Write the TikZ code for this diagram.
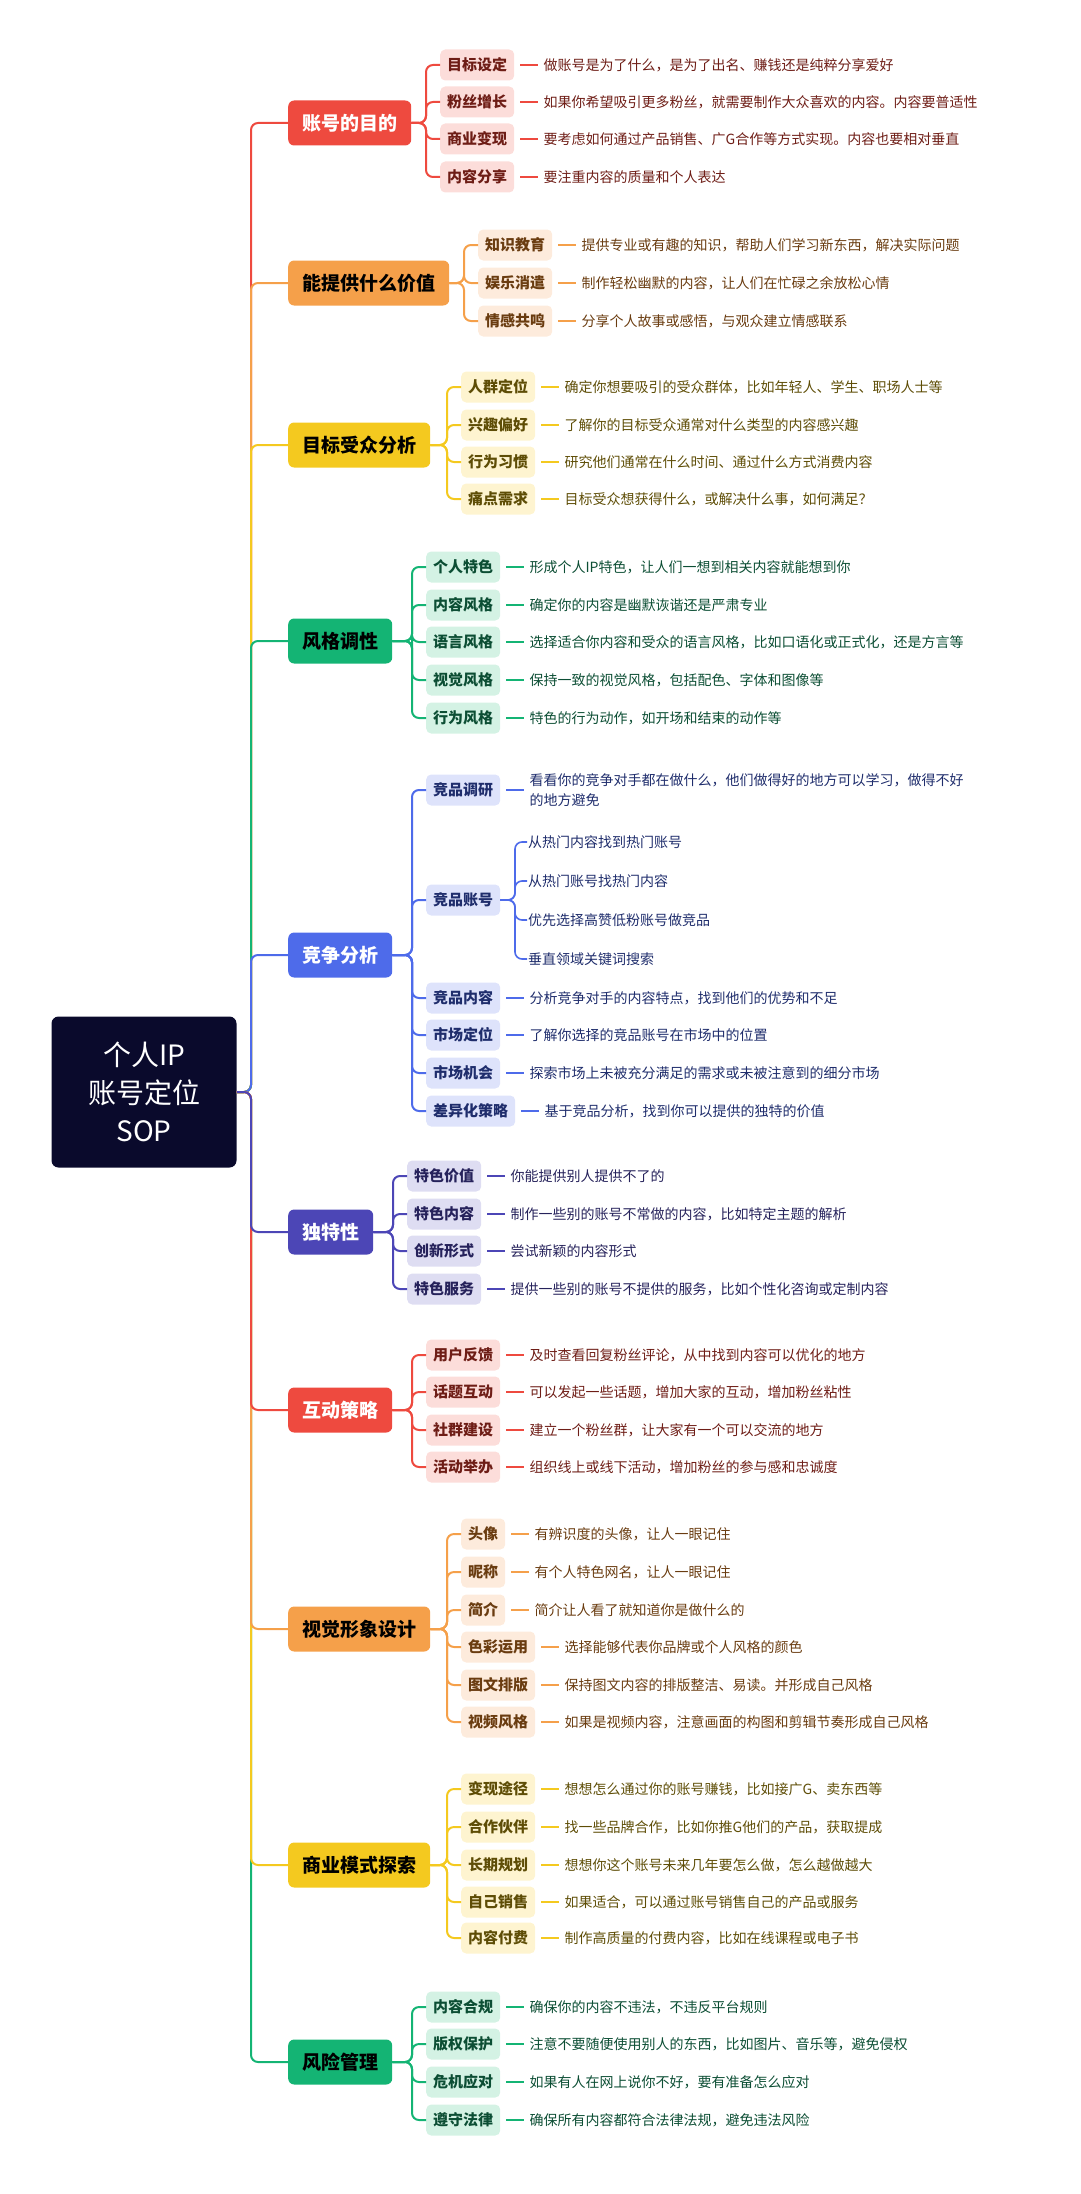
\documentclass[tikz,border=0pt]{standalone}
\usepackage{fontspec}
\setmainfont{Noto Sans CJK SC}
\usepackage{xcolor}
\usetikzlibrary{positioning}

\definecolor{redM}{HTML}{EE4A3F}\definecolor{redL}{HTML}{FCDDDA}\definecolor{redD}{HTML}{6E1D16}
\definecolor{orgM}{HTML}{F5A04A}\definecolor{orgL}{HTML}{FDEBDC}\definecolor{orgD}{HTML}{6A3C10}
\definecolor{yelM}{HTML}{F4C91F}\definecolor{yelL}{HTML}{FEF4D0}\definecolor{yelD}{HTML}{5E4D06}
\definecolor{grnM}{HTML}{14B474}\definecolor{grnL}{HTML}{D4F2E4}\definecolor{grnD}{HTML}{0C4E34}
\definecolor{bluM}{HTML}{4E6BEA}\definecolor{bluL}{HTML}{DEE3FB}\definecolor{bluD}{HTML}{1F2D6C}
\definecolor{indM}{HTML}{4C46B6}\definecolor{indL}{HTML}{DEDDF2}\definecolor{indD}{HTML}{26225B}
\definecolor{rootbg}{HTML}{0A0A2C}

\tikzset{
  main/.style={fill=#1M, rounded corners=6pt, minimum height=45pt, inner xsep=14pt,
    font=\fontsize{19}{22}\selectfont\bfseries, anchor=west},
  sub/.style={fill=#1L, text=#1D, rounded corners=5pt, minimum height=31pt, inner xsep=7pt,
    font=\fontsize{15}{18}\selectfont\bfseries, anchor=west},
  leaf/.style={text=#1D, font=\fontsize{14}{20}\selectfont, inner sep=1pt, align=left, anchor=west},
  link/.style={draw=#1M, line width=2pt, rounded corners=7pt},
  twig/.style={draw=#1M, line width=1.4pt, shorten <=6pt, shorten >=4pt}
}

\begin{document}
\begin{tikzpicture}[x=1pt,y=-1pt]
	\useasboundingbox (0,0) rectangle (1080,2194);
	
	% root
	\node[fill=rootbg, text=white, rounded corners=7pt, minimum width=185pt, minimum height=151pt,
	  align=center, font=\fontsize{28}{38}\selectfont] (root) at (144,1092) {个人IP\\账号定位\\SOP};
	
	% main branches
	\node[main=red, text=white] (m1) at (288,123) {账号的目的};
	\node[main=org] (m2) at (288,283) {能提供什么价值};
	\node[main=yel] (m3) at (288,445) {目标受众分析};
	\node[main=grn] (m4) at (288,641) {风格调性};
	\node[main=blu, text=white] (m5) at (288,955) {竞争分析};
	\node[main=ind, text=white] (m6) at (288,1232) {独特性};
	\node[main=red, text=white] (m7) at (288,1410) {互动策略};
	\node[main=org] (m8) at (288,1629) {视觉形象设计};
	\node[main=yel] (m9) at (288,1865) {商业模式探索};
	\node[main=grn] (m10) at (288,2062) {风险管理};
	
	% trunk
	\draw[link=red] (root.east) -| ([xshift=-37pt]m1.west) -- (m1.west);
	\draw[link=org] (root.east) -| ([xshift=-37pt]m2.west) -- (m2.west);
	\draw[link=yel] (root.east) -| ([xshift=-37pt]m3.west) -- (m3.west);
	\draw[link=grn] (root.east) -| ([xshift=-37pt]m4.west) -- (m4.west);
	\draw[link=blu] (root.east) -| ([xshift=-37pt]m5.west) -- (m5.west);
	\draw[link=grn] (root.east) -| ([xshift=-37pt]m10.west) -- (m10.west);
	\draw[link=yel] (root.east) -| ([xshift=-37pt]m9.west) -- (m9.west);
	\draw[link=org] (root.east) -| ([xshift=-37pt]m8.west) -- (m8.west);
	\draw[link=red] (root.east) -| ([xshift=-37pt]m7.west) -- (m7.west);
	\draw[link=ind] (root.east) -| ([xshift=-37pt]m6.west) -- (m6.west);
	
	% 1
	\foreach \i/\y/\sname/\ltext in {1/65/目标设定/做账号是为了什么，是为了出名、赚钱还是纯粹分享爱好,
	  2/102/粉丝增长/如果你希望吸引更多粉丝，就需要制作大众喜欢的内容。内容要普适性,
	  3/139/商业变现/要考虑如何通过产品销售、广G合作等方式实现。内容也要相对垂直,
	  4/177/内容分享/要注重内容的质量和个人表达}{
	  \node[sub=red] (s1\i) at (440,\y) {\sname};
	  \node[leaf=red, right=28pt of s1\i] (l1\i) {\ltext};
	  \draw[link=red] (m1.east) -| ([xshift=-14pt]s1\i.west) -- (s1\i.west);
	  \draw[twig=red] (s1\i) -- (l1\i);
	}
	% 2
	\foreach \i/\y/\sname/\ltext in {1/245/知识教育/提供专业或有趣的知识，帮助人们学习新东西，解决实际问题,
	  2/283/娱乐消遣/制作轻松幽默的内容，让人们在忙碌之余放松心情,
	  3/321/情感共鸣/分享个人故事或感悟，与观众建立情感联系}{
	  \node[sub=org] (s2\i) at (478,\y) {\sname};
	  \node[leaf=org, right=28pt of s2\i] (l2\i) {\ltext};
	  \draw[link=org] (m2.east) -| ([xshift=-14pt]s2\i.west) -- (s2\i.west);
	  \draw[twig=org] (s2\i) -- (l2\i);
	}
	% 3
	\foreach \i/\y/\sname/\ltext in {1/387/人群定位/确定你想要吸引的受众群体，比如年轻人、学生、职场人士等,
	  2/425/兴趣偏好/了解你的目标受众通常对什么类型的内容感兴趣,
	  3/462/行为习惯/研究他们通常在什么时间、通过什么方式消费内容,
	  4/499/痛点需求/目标受众想获得什么，或解决什么事，如何满足？}{
	  \node[sub=yel] (s3\i) at (461,\y) {\sname};
	  \node[leaf=yel, right=28pt of s3\i] (l3\i) {\ltext};
	  \draw[link=yel] (m3.east) -| ([xshift=-14pt]s3\i.west) -- (s3\i.west);
	  \draw[twig=yel] (s3\i) -- (l3\i);
	}
	% 4
	\foreach \i/\y/\sname/\ltext in {1/567/个人特色/形成个人IP特色，让人们一想到相关内容就能想到你,
	  2/605/内容风格/确定你的内容是幽默诙谐还是严肃专业,
	  3/642/语言风格/选择适合你内容和受众的语言风格，比如口语化或正式化，还是方言等,
	  4/680/视觉风格/保持一致的视觉风格，包括配色、字体和图像等,
	  5/718/行为风格/特色的行为动作，如开场和结束的动作等}{
	  \node[sub=grn] (s4\i) at (426,\y) {\sname};
	  \node[leaf=grn, right=28pt of s4\i] (l4\i) {\ltext};
	  \draw[link=grn] (m4.east) -| ([xshift=-14pt]s4\i.west) -- (s4\i.west);
	  \draw[twig=grn] (s4\i) -- (l4\i);
	}
	% 5
	\foreach \i/\y/\sname/\ltext in {1/790/竞品调研/{看看你的竞争对手都在做什么，他们做得好的地方可以学习，做得不好\\的地方避免},
	  3/998/竞品内容/分析竞争对手的内容特点，找到他们的优势和不足,
	  4/1035/市场定位/了解你选择的竞品账号在市场中的位置,
	  5/1073/市场机会/探索市场上未被充分满足的需求或未被注意到的细分市场,
	  6/1111/差异化策略/基于竞品分析，找到你可以提供的独特的价值}{
	  \node[sub=blu] (s5\i) at (426,\y) {\sname};
	  \node[leaf=blu, right=28pt of s5\i] (l5\i) {\ltext};
	  \draw[link=blu] (m5.east) -| ([xshift=-14pt]s5\i.west) -- (s5\i.west);
	  \draw[twig=blu] (s5\i) -- (l5\i);
	}
	\node[sub=blu] (s52) at (426,900) {竞品账号};
	\draw[link=blu] (m5.east) -| ([xshift=-14pt]s52.west) -- (s52.west);
	\foreach \i/\y/\ltext in {1/842/从热门内容找到热门账号, 2/881/从热门账号找热门内容,
	  3/920/优先选择高赞低粉账号做竞品, 4/959/垂直领域关键词搜索}{
	  \node[leaf=blu] (k\i) at (527,\y) {\ltext};
	  \draw[link=blu, line width=1.6pt] (s52.east) -| ([xshift=-12pt]k\i.west) -- (k\i.west);
	}
	% 6
	\foreach \i/\y/\sname/\ltext in {1/1176/特色价值/你能提供别人提供不了的,
	  2/1214/特色内容/制作一些别的账号不常做的内容，比如特定主题的解析,
	  3/1251/创新形式/尝试新颖的内容形式,
	  4/1289/特色服务/提供一些别的账号不提供的服务，比如个性化咨询或定制内容}{
	  \node[sub=ind] (s6\i) at (407,\y) {\sname};
	  \node[leaf=ind, right=28pt of s6\i] (l6\i) {\ltext};
	  \draw[link=ind] (m6.east) -| ([xshift=-14pt]s6\i.west) -- (s6\i.west);
	  \draw[twig=ind] (s6\i) -- (l6\i);
	}
	% 7
	\foreach \i/\y/\sname/\ltext in {1/1355/用户反馈/及时查看回复粉丝评论，从中找到内容可以优化的地方,
	  2/1392/话题互动/可以发起一些话题，增加大家的互动，增加粉丝粘性,
	  3/1430/社群建设/建立一个粉丝群，让大家有一个可以交流的地方,
	  4/1467/活动举办/组织线上或线下活动，增加粉丝的参与感和忠诚度}{
	  \node[sub=red] (s7\i) at (426,\y) {\sname};
	  \node[leaf=red, right=28pt of s7\i] (l7\i) {\ltext};
	  \draw[link=red] (m7.east) -| ([xshift=-14pt]s7\i.west) -- (s7\i.west);
	  \draw[twig=red] (s7\i) -- (l7\i);
	}
	% 8
	\foreach \i/\y/\sname/\ltext in {1/1534/头像/有辨识度的头像，让人一眼记住,
	  2/1572/昵称/有个人特色网名，让人一眼记住,
	  3/1610/简介/简介让人看了就知道你是做什么的,
	  4/1647/色彩运用/选择能够代表你品牌或个人风格的颜色,
	  5/1685/图文排版/保持图文内容的排版整洁、易读。并形成自己风格,
	  6/1722/视频风格/如果是视频内容，注意画面的构图和剪辑节奏形成自己风格}{
	  \node[sub=org] (s8\i) at (461,\y) {\sname};
	  \node[leaf=org, right=28pt of s8\i] (l8\i) {\ltext};
	  \draw[link=org] (m8.east) -| ([xshift=-14pt]s8\i.west) -- (s8\i.west);
	  \draw[twig=org] (s8\i) -- (l8\i);
	}
	% 9
	\foreach \i/\y/\sname/\ltext in {1/1789/变现途径/想想怎么通过你的账号赚钱，比如接广G、卖东西等,
	  2/1827/合作伙伴/找一些品牌合作，比如你推G他们的产品，获取提成,
	  3/1865/长期规划/想想你这个账号未来几年要怎么做，怎么越做越大,
	  4/1902/自己销售/如果适合，可以通过账号销售自己的产品或服务,
	  5/1938/内容付费/制作高质量的付费内容，比如在线课程或电子书}{
	  \node[sub=yel] (s9\i) at (461,\y) {\sname};
	  \node[leaf=yel, right=28pt of s9\i] (l9\i) {\ltext};
	  \draw[link=yel] (m9.east) -| ([xshift=-14pt]s9\i.west) -- (s9\i.west);
	  \draw[twig=yel] (s9\i) -- (l9\i);
	}
	% 10
	\foreach \i/\y/\sname/\ltext in {1/2007/内容合规/确保你的内容不违法，不违反平台规则,
	  2/2044/版权保护/注意不要随便使用别人的东西，比如图片、音乐等，避免侵权,
	  3/2082/危机应对/如果有人在网上说你不好，要有准备怎么应对,
	  4/2120/遵守法律/确保所有内容都符合法律法规，避免违法风险}{
	  \node[sub=grn] (s10\i) at (426,\y) {\sname};
	  \node[leaf=grn, right=28pt of s10\i] (l10\i) {\ltext};
	  \draw[link=grn] (m10.east) -| ([xshift=-14pt]s10\i.west) -- (s10\i.west);
	  \draw[twig=grn] (s10\i) -- (l10\i);
	}
	
\end{tikzpicture}
\end{document}
